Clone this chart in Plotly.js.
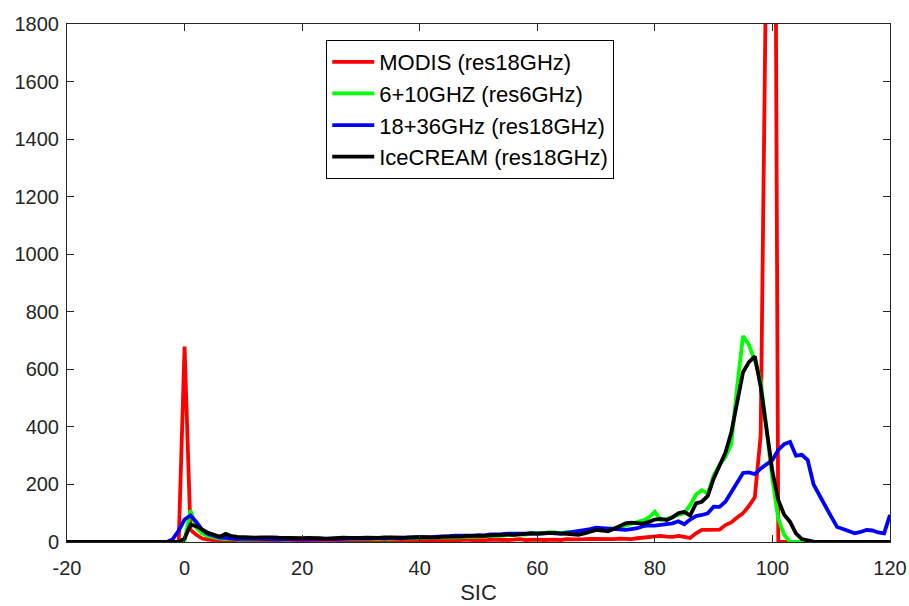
<!DOCTYPE html>
<html>
<head>
<meta charset="utf-8">
<script src="https://cdn.plot.ly/plotly-3.0.1.min.js"></script>
<style>html,body{margin:0;padding:0;background:#fff;}#chart{width:909px;height:606px;}</style>
</head>
<body>
<div id="chart"></div>
<script>
// SIC bins from -20 to 120
const sic = [];
for (let v = -20; v <= 120; v++) sic.push(v);

const seriesNames = ["MODIS (res18GHz)", "6+10GHZ (res6GHz)", "18+36GHz (res18GHz)", "IceCREAM (res18GHz)"];

// values for SIC = -20 ... 120
const modis = [
  0,0,0,0,0,0,0,0,0,0, 0,0,0,0,0,0,0,0,0,0,          // -20..-1
  679,42,25,12,8,5,5,4,3,5,                            // 0..9
  4,3,5,4,3,4,5,3,4,5,                                 // 10..19
  4,3,5,4,3,5,4,6,4,5,                                 // 20..29
  6,4,5,7,5,6,4,5,6,5,                                 // 30..39
  7,5,6,8,6,5,7,6,8,7,                                 // 40..49
  5,6,8,7,9,7,8,10,7,9,                                // 50..59
  8,7,9,8,7,10,9,8,10,11,                              // 60..69
  10,12,11,10,12,11,10,13,15,18,                       // 70..79
  17,21,19,18,21,19,14,30,42,42,                       // 80..89
  41,43,59,68,85,100,125,155,370,2150,                 // 90..99
  4500,0,0,0,0,0,0,0,0,0,                              // 100..109
  0,0,0,0,0,0,0,0,0,0,0                                // 110..120
];

const ghz610 = [
  0,0,0,0,0,0,0,0,0,0, 0,0,0,0,0,0,0,0,0,0,
  5,110,50,30,20,15,12,10,12,8,
  9,10,8,10,9,11,10,8,10,12,
  11,10,9,11,10,9,11,10,12,11,
  10,12,11,13,12,11,13,12,14,13,
  15,14,13,15,16,18,17,16,19,18,
  20,19,21,20,23,25,24,27,26,30,
  32,31,34,33,30,35,34,32,36,38,
  40,44,46,48,52,58,62,68,75,85,
  105,76,80,86,95,100,128,165,180,168,
  230,268,295,340,540,716,685,630,560,390,
  220,80,25,0,0,0,0,0,0,0,
  0,0,0,0,0,0,0,0,0,0,0
];

const ghz1836 = [
  0,0,0,0,0,0,0,0,0,0, 0,0,0,0,0,0,0,0,10,40,
  78,92,70,42,28,20,15,14,12,10,
  12,11,10,9,11,10,9,10,11,10,
  9,10,11,10,12,11,10,12,11,13,
  12,11,13,14,12,15,14,13,16,15,
  18,17,16,19,18,20,22,21,23,22,
  24,23,26,25,27,29,28,30,29,31,
  28,30,32,30,28,32,35,38,40,45,
  50,48,47,46,44,42,45,48,55,58,
  57,60,62,65,72,62,78,90,94,100,
  123,122,140,175,210,240,242,236,255,272,
  285,320,340,348,300,303,285,200,165,125,
  88,52,45,38,30,35,42,40,33,30,94
];

const icecream = [
  0,0,0,0,0,0,0,0,0,0, 0,0,0,0,0,0,0,0,0,0,
  12,60,55,42,32,25,18,28,20,18,
  16,17,15,16,17,16,15,14,15,14,
  13,14,15,13,12,14,13,15,14,13,
  14,15,13,14,16,15,14,16,15,17,
  16,18,17,16,19,18,20,19,21,20,
  22,21,23,25,24,26,25,27,28,30,
  29,31,30,32,30,28,27,25,30,35,
  42,40,37,45,55,65,67,66,64,70,
  78,80,76,86,100,105,92,134,140,160,
  220,265,310,380,480,590,625,645,540,390,
  245,145,95,70,30,10,4,1,0,0,
  0,0,0,0,0,0,0,0,0,0,0
];

const yTicks = [0,200,400,600,800,1000,1200,1400,1600,1800];
const xTicks = [-20,0,20,40,60,80,100,120];

const colors = ["#ff0000", "#00ff00", "#0000ff", "#000000"];
const allY = [modis, ghz610, ghz1836, icecream];

const traces = allY.map((ys, i) => ({
  x: sic,
  y: ys,
  type: "scatter",
  mode: "lines",
  name: seriesNames[i],
  line: {color: colors[i], width: 3.8},
  cliponaxis: true
}));

const FONT = "Liberation Sans, Arial, Helvetica, sans-serif";

const axisCommon = {
  showgrid: false,
  zeroline: false,
  showline: true,
  linecolor: "#262626",
  linewidth: 1,
  mirror: "ticks",
  ticks: "inside",
  ticklen: 7,
  tickcolor: "#262626",
  tickfont: {family: FONT, size: 20, color: "#262626"}
};

const layout = {
  width: 909,
  height: 606,
  margin: {l: 67, r: 19, t: 24, b: 64},
  paper_bgcolor: "#ffffff",
  plot_bgcolor: "#ffffff",
  showlegend: true,
  legend: {
    x: 0.315, y: 0.969, xanchor: "left", yanchor: "top",
    bgcolor: "#ffffff",
    bordercolor: "#000000",
    borderwidth: 1,
    itemwidth: 42,
    font: {family: FONT, size: 22, color: "#000000"}
  },
  xaxis: Object.assign({}, axisCommon, {
    range: [-20, 120],
    tickvals: xTicks,
    ticktext: xTicks.map(String),
    ticklabelstandoff: 8,
    title: {text: "SIC", font: {family: FONT, size: 22, color: "#262626"}, standoff: 6}
  }),
  yaxis: Object.assign({}, axisCommon, {
    range: [0, 1800],
    tickvals: yTicks,
    ticktext: yTicks.map(String),
    ticklabelstandoff: 3
  })
};

Plotly.newPlot("chart", traces, layout, {displayModeBar: false, staticPlot: true});
</script>
</body>
</html>
